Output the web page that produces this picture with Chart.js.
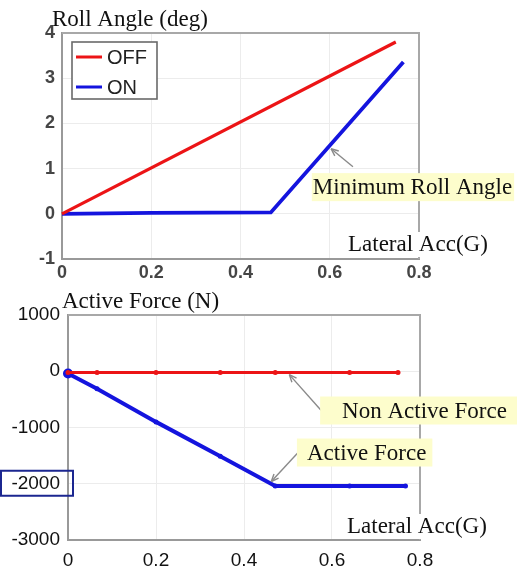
<!DOCTYPE html>
<html>
<head>
<meta charset="utf-8">
<script src="https://cdn.jsdelivr.net/npm/chart.js@4.4.1/dist/chart.umd.min.js"></script>
<style>
html,body{margin:0;padding:0;background:#fff}
#wrap{position:relative;width:517px;height:567px;overflow:hidden}
.panel{position:absolute;left:0;width:517px}
</style>
</head>
<body>
<div id="wrap">
  <div class="panel" style="top:0;height:290px"><canvas id="rollChart" width="517" height="290"></canvas></div>
  <div class="panel" style="top:290px;height:277px"><canvas id="forceChart" width="517" height="277"></canvas></div>
</div>
<script>
// Roll angle (deg) vs lateral acc (G)
const rollAccOff = [0, 0.748];
const rollOff = [0, 3.8];
const rollAccOn = [0, 0.2, 0.468, 0.765];
const rollOn = [0, 0.02, 0.03, 3.36];

// Active force (N) vs lateral acc (G)
const forceAccOff = [0, 0.066, 0.2, 0.346, 0.471, 0.64, 0.75];
const forceOff = [-20, -20, -20, -20, -20, -20, -20];
const forceAccOn = [0, 0.066, 0.2, 0.346, 0.471, 0.64, 0.767];
const forceOn = [-40, -310, -900, -1510, -2040, -2040, -2040];

// tick labels
const accTicks = [0, 0.2, 0.4, 0.6, 0.8];
const rollTicks = [-1, 0, 1, 2, 3, 4];
const forceTicks = [-3000, -2000, -1000, 0, 1000];

const RED = 'rgb(236,20,22)';
const BLUE = 'rgb(20,20,222)';
const SERIF = '"Liberation Serif", "Times New Roman", serif';
const SANS = '"Liberation Sans", Arial, sans-serif';

const pts = (xs, ys) => xs.map((x, i) => ({x, y: ys[i]}));
const fixTicks = list => s => { s.ticks = list.map(v => ({value: v})); };

function arrow(ctx, x1, y1, x2, y2){
  const a = Math.atan2(y2 - y1, x2 - x1), h = 8;
  ctx.save();
  ctx.strokeStyle = '#8a8a8a'; ctx.fillStyle = '#8a8a8a'; ctx.lineWidth = 1.4;
  ctx.beginPath(); ctx.moveTo(x1, y1); ctx.lineTo(x2, y2); ctx.stroke();
  ctx.beginPath();
  ctx.moveTo(x2, y2);
  ctx.lineTo(x2 - h*Math.cos(a - 0.4), y2 - h*Math.sin(a - 0.4));
  ctx.moveTo(x2, y2);
  ctx.lineTo(x2 - h*Math.cos(a + 0.4), y2 - h*Math.sin(a + 0.4));
  ctx.stroke();
  ctx.restore();
}

// yellow callouts + arrows, frame, axis label
function decorPlugin(cfg){
  return {
    id: 'decor',
    afterDraw(chart){
      const {ctx, chartArea: ca, scales: {x, y}} = chart;
      ctx.save();
      // top/right frame
      ctx.strokeStyle = '#a8a8a8'; ctx.lineWidth = 2;
      ctx.beginPath();
      ctx.moveTo(ca.left, ca.top); ctx.lineTo(ca.right, ca.top); ctx.lineTo(ca.right, ca.bottom);
      ctx.stroke();

      ctx.font = '23px ' + SERIF;
      ctx.textBaseline = 'middle';
      cfg.notes.forEach(n => {
        const a = n.arrow;
        arrow(ctx, x.getPixelForValue(a[0]), y.getPixelForValue(a[1]), x.getPixelForValue(a[2]), y.getPixelForValue(a[3]));
      });
      cfg.notes.forEach(n => {
        const tx = x.getPixelForValue(n.x), ty = y.getPixelForValue(n.y);
        const w = ctx.measureText(n.text).width;
        ctx.fillStyle = '#fdfdcc';
        ctx.fillRect(tx - n.padL, ty - 14, w + n.padL + n.padR, 28);
        ctx.fillStyle = '#111';
        ctx.fillText(n.text, tx, ty + 1);
      });

      // axis label with white backing
      const lx = ca.right - cfg.accLabel[0], ly = ca.bottom - cfg.accLabel[1];
      const lw = ctx.measureText('Lateral Acc(G)').width;
      ctx.fillStyle = '#fff';
      ctx.fillRect(lx - 3, ly - 13, lw + 6, 25);
      ctx.fillStyle = '#111';
      ctx.fillText('Lateral Acc(G)', lx, ly);

      // title
      ctx.textBaseline = 'alphabetic';
      ctx.fillText(cfg.title, ca.left + cfg.titlePos[0], cfg.titlePos[1]);
      ctx.restore();
      if(cfg.extra) cfg.extra(chart);
    }
  };
}

function baseOptions(o){
  return {
    responsive: false,
    animation: false,
    devicePixelRatio: 1,
    layout: {padding: o.padding},
    plugins: {legend: {display: false}, tooltip: {enabled: false}},
    scales: {
      x: {
        type: 'linear', min: 0, max: 0.8,
        afterBuildTicks: fixTicks(accTicks),
        afterFit: s => { s.height = o.xh; },
        grid: {color: '#ececec', lineWidth: 1, drawTicks: false},
        border: {display: true, color: '#999', width: 2},
        ticks: {font: o.font, color: o.color, padding: o.xpad, maxRotation: 0, callback: v => String(v)}
      },
      y: {
        type: 'linear', min: o.ymin, max: o.ymax,
        afterBuildTicks: fixTicks(o.yticks),
        afterFit: s => { s.width = o.yw; },
        grid: {color: '#ececec', lineWidth: 1, drawTicks: false},
        border: {display: true, color: '#999', width: 2},
        ticks: {font: o.font, color: o.color, padding: o.ypad, callback: v => String(v)}
      }
    }
  };
}

window.addEventListener('DOMContentLoaded', () => {
  // ---- Roll angle chart
  const rollOpts = baseOptions({
    padding: {top: 33, right: 98, left: 0, bottom: 0},
    xh: 31, yw: 62, ymin: -1, ymax: 4, yticks: rollTicks,
    font: {family: SANS, size: 18, weight: 'bold'}, color: '#454545', xpad: 3, ypad: 7
  });
  new Chart(document.getElementById('rollChart'), {
    type: 'line',
    data: {datasets: [
      {label: 'OFF', data: pts(rollAccOff, rollOff), borderColor: RED, borderWidth: 3.2, pointRadius: 0, tension: 0, clip: 4},
      {label: 'ON', data: pts(rollAccOn, rollOn), borderColor: BLUE, borderWidth: 3.8, pointRadius: 0, tension: 0, clip: 4}
    ]},
    options: rollOpts,
    plugins: [decorPlugin({
      title: 'Roll Angle (deg)', titlePos: [-10, 26], accLabel: [71, 14],
      notes: [{text: 'Minimum Roll Angle', x: 0.562, y: 0.59, padL: 1, padR: 2, arrow: [0.652, 1.04, 0.603, 1.44]}],
      extra(chart){
        // legend box
        const ctx = chart.ctx;
        ctx.save();
        ctx.fillStyle = '#fff';
        ctx.fillRect(72, 42, 85, 57);
        ctx.strokeStyle = '#6a6a6a'; ctx.lineWidth = 1.6;
        ctx.strokeRect(72, 42, 85, 57);
        ctx.font = '20px ' + SANS;
        ctx.textBaseline = 'middle';
        chart.data.datasets.forEach((ds, i) => {
          const yy = 57 + i*30;
          ctx.strokeStyle = ds.borderColor; ctx.lineWidth = 3;
          ctx.beginPath(); ctx.moveTo(76, yy); ctx.lineTo(102, yy); ctx.stroke();
          ctx.fillStyle = '#222';
          ctx.fillText(ds.label, 107, yy + 1);
        });
        ctx.restore();
      }
    })]
  });

  // ---- Active force chart
  const forceOpts = baseOptions({
    padding: {top: 25, right: 97, left: 0, bottom: 0},
    xh: 27, yw: 68, ymin: -3000, ymax: 1000, yticks: forceTicks,
    font: {family: SANS, size: 19}, color: '#111', xpad: 9, ypad: 8
  });
  new Chart(document.getElementById('forceChart'), {
    type: 'line',
    data: {datasets: [
      {label: 'Non Active Force', data: pts(forceAccOff, forceOff), borderColor: RED, backgroundColor: RED,
       borderWidth: 3, pointRadius: 2.5, pointBorderWidth: 0, tension: 0, clip: 8},
      {label: 'Active Force', data: pts(forceAccOn, forceOn), borderColor: BLUE, backgroundColor: BLUE,
       borderWidth: 4, pointRadius: c => c.dataIndex === 0 ? 5 : 2.5, pointBorderWidth: 0, tension: 0, clip: 8}
    ]},
    options: forceOpts,
    plugins: [decorPlugin({
      title: 'Active Force (N)', titlePos: [-6, 18], accLabel: [73, 13],
      notes: [
        {text: 'Non Active Force', x: 0.623, y: -698, padL: 22, padR: 14, arrow: [0.575, -693, 0.503, -60]},
        {text: 'Active Force', x: 0.543, y: -1445, padL: 10, padR: 6, arrow: [0.523, -1445, 0.462, -1960]}
      ],
      extra(chart){
        // highlight box round the -2000 tick
        const ctx = chart.ctx, py = chart.scales.y.getPixelForValue(-2000);
        ctx.save();
        ctx.strokeStyle = '#1b2690'; ctx.lineWidth = 2;
        ctx.strokeRect(1, py - 13, 72, 25);
        ctx.restore();
      }
    })]
  });
});
</script>
</body>
</html>
